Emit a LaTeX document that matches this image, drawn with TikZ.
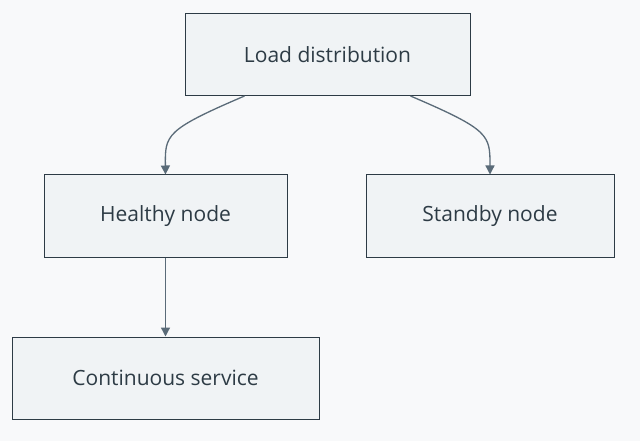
\documentclass[tikz,border=0pt]{standalone}
\usepackage{fontspec}
\setmainfont{Open Sans}
\usetikzlibrary{arrows.meta}
\definecolor{bgcol}{HTML}{F8F9FA}
\definecolor{boxfill}{HTML}{F0F3F5}
\definecolor{boxline}{HTML}{2D3B45}
\definecolor{linkcol}{HTML}{5A6B78}
\tikzset{
  box/.style={draw=boxline, fill=boxfill, line width=1pt, minimum height=82pt,
    font=\fontsize{21}{25}\selectfont, text=boxline},
  link/.style={draw=linkcol, line width=1.3pt, -{Triangle[length=9pt,width=9pt]}}
}
\begin{document}
\begin{tikzpicture}[x=1pt,y=-1pt]
    % Background
    \fill[bgcol] (0,0) rectangle (640,441);
    \useasboundingbox (0,0) rectangle (640,441);

    % Boxes
    \node[box, minimum width=285pt] (load) at (327.5,54.5) {Load distribution};
    \node[box, minimum width=243pt] (healthy) at (165.5,216) {Healthy node};
    \node[box, minimum width=248pt] (standby) at (490,216) {Standby node};
    \node[box, minimum width=307pt] (service) at (165.5,378) {Continuous service};

    % Links
    \draw[link] ([xshift=60pt]load.south west) .. controls (165,130) and (165,135) .. (healthy.north);
    \draw[link] ([xshift=-60pt]load.south east) .. controls (490,130) and (490,135) .. (standby.north);
    \draw[link] (healthy) -- (service);
\end{tikzpicture}
\end{document}
